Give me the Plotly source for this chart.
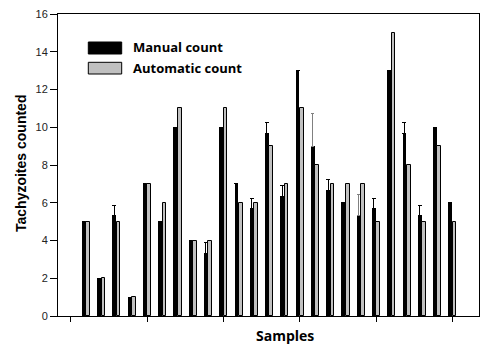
import plotly.graph_objects as go

samples = list(range(1, 26))
manual = [5, 2, 5.33, 1, 7, 5, 10, 4, 3.33, 10, 7, 5.67, 9.67, 6.33, 13, 9, 6.67, 6, 5.33, 5.67, 13, 9.67, 5.33, 10, 6]
automatic = [5, 2, 5, 1, 7, 6, 11, 4, 4, 11, 6, 6, 9, 7, 11, 8, 7, 7, 7, 5, 15, 8, 5, 9, 5]
manual_err = [0, 0, 0.53, 0, 0, 0, 0, 0, 0.57, 0, 0, 0.56, 0.57, 0.58, 0, 0, 0.57, 0, 0, 0.57, 0, 0.57, 0.55, 0, 0]
# error bars drawn in grey in the original (samples 16 and 19)
grey_err_samples = [16, 19]
grey_err_values = [1.74, 1.13]

yticks = [0, 2, 4, 6, 8, 10, 12, 14, 16]
xticks = [0, 5, 10, 15, 20, 25]

fig = go.Figure()
fig.add_trace(go.Bar(
    x=samples, y=manual, name="Manual count",
    offset=-0.27, width=0.25,
    marker=dict(color="black", line=dict(width=0)),
    error_y=dict(type="data", symmetric=False, array=manual_err, arrayminus=[0]*len(manual_err),
                 color="black", thickness=1, width=2),
    showlegend=False,
))
fig.add_trace(go.Bar(
    x=samples, y=automatic, name="Automatic count",
    offset=0.02, width=0.24,
    marker=dict(color="#c0c0c0", line=dict(color="black", width=1)),
    showlegend=False,
))
grey_y = [manual[s - 1] for s in grey_err_samples]
fig.add_trace(go.Bar(
    x=grey_err_samples, y=grey_y,
    offset=-0.27, width=0.25,
    marker=dict(color="rgba(0,0,0,0)", line=dict(width=0)),
    error_y=dict(type="data", symmetric=False, array=grey_err_values, arrayminus=[0, 0],
                 color="#808080", thickness=1, width=1.5),
    showlegend=False, hoverinfo="skip",
))

W, L, R, T, B = 486, 58, 479, 14, 316
pw, ph = R - L, B - T

def px(x):
    return (x - L) / pw

def py(y):
    return (B - y) / ph

# legend drawn manually (wide swatches as in the original)
fig.add_shape(type="rect", xref="paper", yref="paper",
              x0=px(88.3), x1=px(121.7), y0=py(54), y1=py(42),
              fillcolor="black", line=dict(color="black", width=1))
fig.add_shape(type="rect", xref="paper", yref="paper",
              x0=px(88.3), x1=px(121.7), y0=py(74), y1=py(62.3),
              fillcolor="#c0c0c0", line=dict(color="black", width=1))
lfont = dict(family="Open Sans, Liberation Sans, Arial", size=13, color="black")
fig.add_annotation(xref="paper", yref="paper", x=px(131), y=py(47.5),
                   text="<b>Manual count</b>", showarrow=False, xanchor="left", yanchor="middle",
                   font=lfont)
fig.add_annotation(xref="paper", yref="paper", x=px(131), y=py(68),
                   text="<b>Automatic count</b>", showarrow=False, xanchor="left", yanchor="middle",
                   font=lfont)
# axis titles
fig.add_annotation(xref="paper", yref="paper", x=px(285), y=py(335),
                   text="<b>Samples</b>", showarrow=False, xanchor="center", yanchor="middle",
                   font=dict(family="Open Sans, Liberation Sans, Arial", size=14, color="black"))
fig.add_annotation(xref="paper", yref="paper", x=px(21), y=py(164),
                   text="<b>Tachyzoites counted</b>", showarrow=False, textangle=-90,
                   xanchor="center", yanchor="middle",
                   font=dict(family="Liberation Sans, Arial", size=14, color="black"))

fig.update_layout(
    width=486, height=345,
    margin=dict(l=L, r=W - R, t=T, b=345 - B, autoexpand=False),
    plot_bgcolor="white", paper_bgcolor="white",
    font=dict(family="Liberation Sans, Arial", color="black"),
    bargap=0,
)
fig.update_xaxes(
    range=[-0.83, 26.74], tickvals=xticks, ticktext=[""]*len(xticks),
    ticks="outside", ticklen=5, tickcolor="black", tickwidth=1,
    showline=True, linecolor="black", linewidth=1, mirror=True,
    showgrid=False, zeroline=False, automargin=False,
)
fig.update_yaxes(
    range=[0, 16], tickvals=yticks,
    ticks="outside", ticklen=7, tickcolor="black", tickwidth=1,
    tickfont=dict(size=11, color="#222"),
    showline=True, linecolor="black", linewidth=1, mirror=True,
    showgrid=False, zeroline=False, automargin=False,
)

fig.write_html("out.html", config={"displayModeBar": False},
               post_script="document.body.style.margin='0';document.body.style.overflow='hidden';")
